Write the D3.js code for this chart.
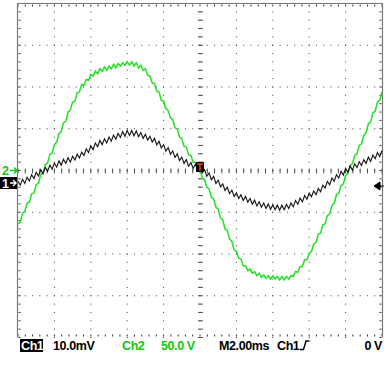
<!DOCTYPE html>
<html lang="en">
  <head>
    <style>
      body { margin: 0; background: #fff; }
      text { font-family: "Liberation Sans", Arial, sans-serif; font-weight: bold; font-size: 12.5px; letter-spacing: -0.4px; }
    </style>
    <script src="https://d3js.org/d3.v7.min.js"></script>
  </head>
  <body>
    <svg width="386" height="377"></svg>
    <script>
      // sample clock: 2.00 ms/div, 10 divisions, trigger at centre
      const startTime = -10, sampleStep = 0.125;

      // Ch1 (mV), 10.0 mV/div, ground marker 0.3 div below centre
      const ch1 = [
        0.4, -0.5, 0.9, -0.1, 1.4, 0.5, 2.0, 1.1, 2.6, 1.7, 3.2, 2.2, 3.7, 2.8, 4.3, 3.3,
        4.8, 3.8, 5.3, 4.3, 5.7, 4.7, 6.1, 5.0, 6.4, 5.5, 6.9, 6.0, 7.4, 6.6, 8.2, 7.3,
        8.9, 8.0, 9.6, 8.7, 10.2, 9.2, 10.6, 9.6, 11.0, 10.0, 11.5, 10.5, 11.9, 10.9, 12.3, 11.2,
        12.6, 11.4, 12.6, 11.3, 12.5, 11.1, 12.1, 10.7, 11.7, 10.3, 11.2, 9.8, 10.7, 9.1, 10.0, 8.4,
        9.2, 7.6, 8.5, 6.9, 7.7, 6.1, 7.0, 5.4, 6.2, 4.7, 5.6, 4.0, 4.9, 3.5, 4.5, 3.0,
        4.0, 2.4, 3.2, 1.6, 2.4, 0.8, 1.6, -0.1, 0.7, -0.9, -0.2, -1.8, -1.0, -2.5, -1.7, -3.2,
        -2.3, -3.7, -2.8, -4.2, -3.2, -4.6, -3.7, -5.1, -4.1, -5.5, -4.5, -5.8, -4.8, -6.1, -5.0, -6.3,
        -5.2, -6.4, -5.3, -6.5, -5.3, -6.4, -5.1, -6.1, -4.8, -5.7, -4.2, -5.1, -3.6, -4.5, -3.0, -3.9,
        -2.4, -3.3, -1.9, -2.8, -1.3, -2.1, -0.5, -1.2, 0.4, -0.4, 1.2, 0.4, 2.0, 1.2, 2.8, 1.9,
        3.5, 2.6, 4.1, 3.1, 4.6, 3.7, 5.1, 4.2, 5.6, 4.7, 6.2, 5.2, 6.7, 5.8, 7.3, 6.3, 7.8
      ];

      // Ch2 (V), 50.0 V/div, ground at centre
      const ch2 = [
        -64, -62, -51, -49, -39, -38, -28, -27, -17, -15, -5, -3, 7, 9, 19, 21,
        31, 34, 44, 47, 57, 59, 70, 72, 82, 83, 93, 94, 103, 102, 109, 108,
        115, 113, 119, 116, 122, 119, 124, 120, 125, 122, 127, 123, 128, 125, 129, 126,
        130, 126, 130, 125, 129, 123, 126, 120, 122, 114, 113, 105, 104, 95, 94, 84,
        83, 74, 72, 63, 61, 51, 50, 40, 38, 29, 28, 19, 18, 10, 10, 1,
        1, -9, -11, -20, -22, -32, -34, -44, -46, -57, -59, -70, -72, -82, -85, -95,
        -97, -105, -106, -114, -114, -120, -118, -123, -121, -126, -123, -128, -125, -129, -126, -130,
        -126, -130, -127, -131, -127, -131, -127, -130, -126, -127, -121, -122, -115, -115, -107, -107,
        -99, -97, -88, -86, -76, -75, -65, -64, -54, -52, -42, -39, -29, -27, -18, -16,
        -6, -4, 6, 8, 18, 20, 30, 32, 42, 45, 56, 58, 69, 71, 82, 84, 94
      ];

      const voltsPerDiv = { ch1: 10, ch2: 50 };
      const groundDiv = { ch1: -0.3, ch2: 0 };
      const readout = { ch1: "10.0mV", ch2: "50.0 V", time: "M2.00ms", trigSrc: "Ch1", trigLevel: "0 V" };

      const svg = d3.select("svg");
      const green = "#22e022", greenText = "#10c810";

      const x = d3.scaleLinear().domain([-10, 10]).range([18, 382]);
      const yDiv = d3.scaleLinear().domain([-4, 4]).range([337.5, 3.5]);

      const grid = svg.append("g");
      const dot = (cx, cy, w, h, c) =>
        grid.append("rect").attr("x", cx).attr("y", cy).attr("width", w).attr("height", h).attr("fill", c || "#444");

      const xMinor = d3.range(0, 51).map(i => -10 + i * 0.4);
      const yMinor = d3.range(0, 41).map(i => -4 + i * 0.2);

      // dotted graticule lines
      d3.range(1, 10).forEach(i => {
        const gx = x(-10 + 2 * i);
        yMinor.forEach(v => {
          if (i === 5) dot(gx - 2, yDiv(v) - 0.5, 5, 1, "#555");
          dot(gx - 0.5, yDiv(v) - 0.5, 1, 1);
        });
      });
      d3.range(1, 8).forEach(k => {
        const gy = yDiv(-4 + k);
        xMinor.forEach(t => {
          if (k === 4) dot(x(t) - 0.5, gy - 2, 1, 5, "#555");
          dot(x(t) - 0.5, gy - 0.5, 1, 1);
        });
      });
      // edge ticks
      xMinor.forEach(t => {
        dot(x(t) - 0.5, 4.5, 1, 2, "#333");
        dot(x(t) - 0.5, 334.5, 1, 2, "#333");
      });
      yMinor.forEach(v => {
        dot(18.5, yDiv(v) - 0.5, 2, 1, "#333");
        dot(379.5, yDiv(v) - 0.5, 2, 1, "#333");
      });

      // frame
      svg.append("path")
        .attr("d", "M17.5,337.5V3.5H382.5V337.5")
        .attr("fill", "none").attr("stroke", "#777").attr("stroke-width", 1.2);

      const times = d3.range(ch1.length).map(i => startTime + i * sampleStep);
      const trace = (vals, ch) =>
        d3.line()
          .x((d, i) => x(times[i]))
          .y(d => yDiv(d / voltsPerDiv[ch] + groundDiv[ch]))(vals);

      svg.append("path").attr("d", trace(ch2, "ch2"))
        .attr("fill", "none").attr("stroke", green).attr("stroke-width", 1.5);
      svg.append("path").attr("d", trace(ch1, "ch1"))
        .attr("fill", "none").attr("stroke", "#111").attr("stroke-width", 1.1);

      // ground markers
      const g2 = yDiv(groundDiv.ch2), g1 = yDiv(groundDiv.ch1);
      svg.append("text").attr("x", 2).attr("y", g2 + 4.5).attr("fill", greenText).text("2");
      svg.append("path").attr("d", `M10,${g2}H17M14,${g2 - 3}L17,${g2}L14,${g2 + 3}`)
        .attr("fill", "none").attr("stroke", greenText).attr("stroke-width", 1.4);
      svg.append("rect").attr("x", 0).attr("y", g1 - 6).attr("width", 17).attr("height", 12).attr("fill", "#000");
      svg.append("text").attr("x", 2).attr("y", g1 + 4.5).attr("fill", "#fff").text("1");
      svg.append("path").attr("d", `M10,${g1}H16M13,${g1 - 3}L16,${g1}L13,${g1 + 3}`)
        .attr("fill", "none").attr("stroke", "#fff").attr("stroke-width", 1.4);

      // trigger position marker
      const tx = x(0);
      svg.append("rect").attr("x", tx - 4).attr("y", 162).attr("width", 8).attr("height", 10).attr("fill", "#000");
      svg.append("path").attr("d", `M${tx - 3},164H${tx + 3}M${tx},164V171`)
        .attr("fill", "none").attr("stroke", "#ff3a10").attr("stroke-width", 1.5);

      // trigger level marker (right edge)
      const tl = yDiv(groundDiv.ch1) + 3;
      svg.append("path").attr("d", `M374,${tl}L380,${tl - 4}V${tl + 4}Z M380,${tl}H384`)
        .attr("fill", "#000").attr("stroke", "#000").attr("stroke-width", 1);

      // readout line
      const by = 350;
      svg.append("rect").attr("x", 20).attr("y", 339).attr("width", 23).attr("height", 13).attr("fill", "#000");
      svg.append("text").attr("x", 21).attr("y", by).attr("fill", "#fff").text("Ch1");
      svg.append("text").attr("x", 53).attr("y", by).attr("fill", "#000").text(readout.ch1);
      svg.append("text").attr("x", 122).attr("y", by).attr("fill", greenText).text("Ch2");
      svg.append("text").attr("x", 161).attr("y", by).attr("fill", greenText).text(readout.ch2);
      svg.append("text").attr("x", 219).attr("y", by).attr("fill", "#000").text(readout.time);
      svg.append("text").attr("x", 277).attr("y", by).attr("fill", "#000").text(readout.trigSrc);
      svg.append("path").attr("d", "M300,349.5H303.5L306,341H309.5")
        .attr("fill", "none").attr("stroke", "#000").attr("stroke-width", 1.4);
      svg.append("text").attr("x", 382).attr("y", by).attr("text-anchor", "end").attr("fill", "#000").text(readout.trigLevel);
    </script>
  </body>
</html>
